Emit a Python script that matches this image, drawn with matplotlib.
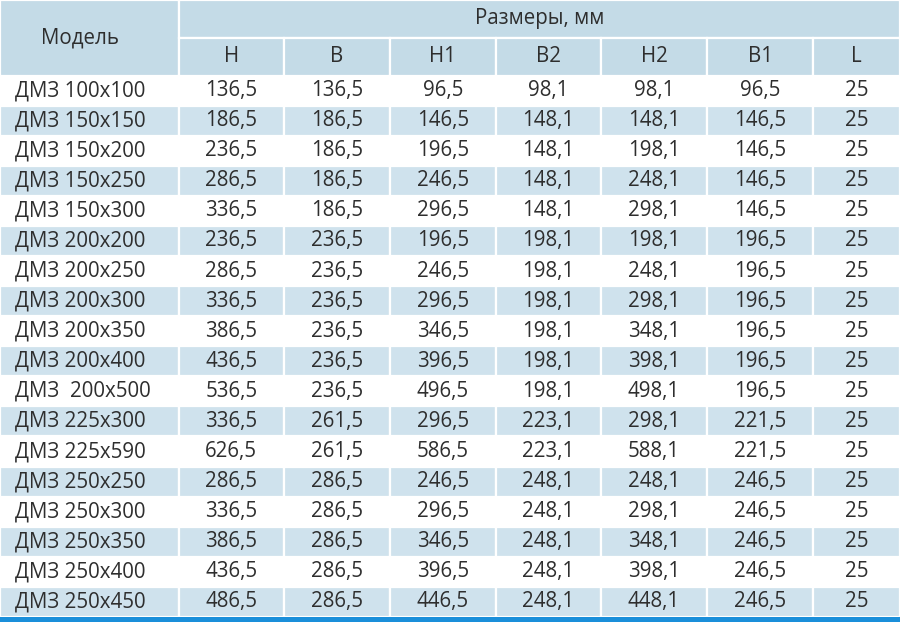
import matplotlib.pyplot as plt
from matplotlib.patches import Rectangle

plt.rcParams['font.family'] = ['Open Sans', 'DejaVu Sans']

models = ['ДМЗ 100x100', 'ДМЗ 150x150', 'ДМЗ 150x200', 'ДМЗ 150x250', 'ДМЗ 150x300',
          'ДМЗ 200x200', 'ДМЗ 200x250', 'ДМЗ 200x300', 'ДМЗ 200x350', 'ДМЗ 200x400',
          'ДМЗ  200x500', 'ДМЗ 225x300', 'ДМЗ 225x590', 'ДМЗ 250x250', 'ДМЗ 250x300',
          'ДМЗ 250x350', 'ДМЗ 250x400', 'ДМЗ 250x450']
columns = ['H', 'B', 'H1', 'B2', 'H2', 'B1', 'L']
H = ['136,5', '186,5', '236,5', '286,5', '336,5', '236,5', '286,5', '336,5', '386,5',
     '436,5', '536,5', '336,5', '626,5', '286,5', '336,5', '386,5', '436,5', '486,5']
B = ['136,5', '186,5', '186,5', '186,5', '186,5', '236,5', '236,5', '236,5', '236,5',
     '236,5', '236,5', '261,5', '261,5', '286,5', '286,5', '286,5', '286,5', '286,5']
H1 = ['96,5', '146,5', '196,5', '246,5', '296,5', '196,5', '246,5', '296,5', '346,5',
      '396,5', '496,5', '296,5', '586,5', '246,5', '296,5', '346,5', '396,5', '446,5']
B2 = ['98,1', '148,1', '148,1', '148,1', '148,1', '198,1', '198,1', '198,1', '198,1',
      '198,1', '198,1', '223,1', '223,1', '248,1', '248,1', '248,1', '248,1', '248,1']
H2 = ['98,1', '148,1', '198,1', '248,1', '298,1', '198,1', '248,1', '298,1', '348,1',
      '398,1', '498,1', '298,1', '588,1', '248,1', '298,1', '348,1', '398,1', '448,1']
B1 = ['96,5', '146,5', '146,5', '146,5', '146,5', '196,5', '196,5', '196,5', '196,5',
      '196,5', '196,5', '221,5', '221,5', '246,5', '246,5', '246,5', '246,5', '246,5']
L = ['25'] * 18

header_color = '#c4dbe7'
shade_color = '#cfe2ed'
bar_color = '#1a8fda'
text_color = '#2e2e2e'

fig = plt.figure(figsize=(9, 6.22), dpi=100)
ax = fig.add_axes([0, 0, 1, 1])
ax.set_xlim(0, 900)
ax.set_ylim(622, 0)
ax.axis('off')

# column edges in pixels
edges = [0, 178.5, 284, 390, 495.5, 601, 707, 813, 900]
top1, top2, data_top = 0, 37.5, 75.5
row_h = (617 - data_top) / len(models)
fs = 14.8

def cell(x0, x1, y0, y1, color):
    ax.add_patch(Rectangle((x0, y0), x1 - x0, y1 - y0, facecolor=color,
                           edgecolor='white', linewidth=1.6))

# header
cell(edges[0], edges[1], top1, data_top, header_color)
ax.text(80, (top1 + data_top) / 2, 'Модель', ha='center', va='center',
        fontsize=fs, color=text_color)
cell(edges[1], edges[-1], top1, top2, header_color)
ax.text((edges[1] + edges[-1]) / 2, (top1 + top2) / 2, 'Размеры, мм', ha='center',
        va='center', fontsize=fs, color=text_color)
for i, c in enumerate(columns):
    cell(edges[i + 1], edges[i + 2], top2, data_top, header_color)
    ax.text((edges[i + 1] + edges[i + 2]) / 2, (top2 + data_top) / 2, c,
            ha='center', va='center', fontsize=fs, color=text_color)

# body
data = [H, B, H1, B2, H2, B1, L]
for r, m in enumerate(models):
    y0 = data_top + r * row_h
    yc = y0 + row_h / 2
    if r % 2 == 1:
        for i in range(len(edges) - 1):
            cell(edges[i], edges[i + 1], y0, y0 + row_h, shade_color)
    ax.text(15, yc, m, ha='left', va='center', fontsize=fs, color=text_color)
    for i, col in enumerate(data):
        ax.text((edges[i + 1] + edges[i + 2]) / 2, yc, col[r], ha='center',
                va='center', fontsize=fs, color=text_color)

ax.add_patch(Rectangle((0, 617), 900, 5, facecolor=bar_color, edgecolor='none'))

fig.savefig('out.png', dpi=100)
